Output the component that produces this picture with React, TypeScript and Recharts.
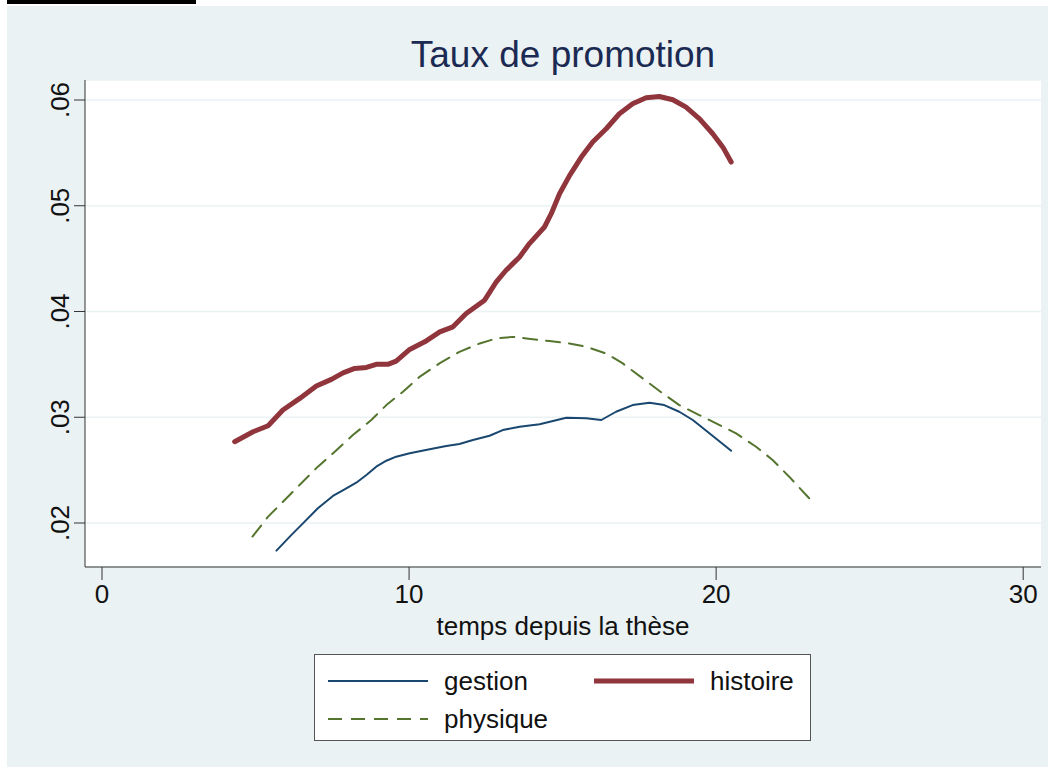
import { LineChart, Line, XAxis, YAxis, CartesianGrid } from "recharts";

// ── Data ──────────────────────────────────────────────────────────────────────

const gestionX = [5.68, 6.17, 6.6, 7.03, 7.52, 7.9, 8.28, 8.61, 8.93, 9.26, 9.58, 10.02, 10.67, 11.21, 11.64, 12.08, 12.62, 13.05, 13.6, 14.25, 15.12, 15.77, 16.26, 16.74, 17.28, 17.83, 18.31, 18.8, 19.24, 19.78, 20.49];
const gestionY = [0.01739, 0.01888, 0.02013, 0.0214, 0.02256, 0.02319, 0.02381, 0.02454, 0.02533, 0.02589, 0.02627, 0.02659, 0.02697, 0.02728, 0.02747, 0.02785, 0.02825, 0.02879, 0.0291, 0.02933, 0.02995, 0.0299, 0.02974, 0.03052, 0.03115, 0.03137, 0.03115, 0.03052, 0.02974, 0.02848, 0.02684];

const histoireX = [4.32, 4.92, 5.41, 5.89, 6.44, 6.98, 7.47, 7.85, 8.23, 8.61, 8.93, 9.31, 9.58, 10.02, 10.51, 11.0, 11.43, 11.86, 12.46, 12.84, 13.16, 13.6, 13.92, 14.41, 14.63, 14.9, 15.23, 15.61, 15.98, 16.42, 16.85, 17.28, 17.72, 18.15, 18.59, 19.02, 19.46, 19.89, 20.22, 20.49];
const histoireY = [0.02769, 0.02863, 0.0292, 0.03068, 0.03178, 0.03295, 0.03358, 0.0342, 0.03462, 0.03471, 0.035, 0.035, 0.03531, 0.03641, 0.03713, 0.03807, 0.03855, 0.03981, 0.04107, 0.0428, 0.0439, 0.04516, 0.04642, 0.04799, 0.04925, 0.05114, 0.05287, 0.0546, 0.05602, 0.05728, 0.0587, 0.05964, 0.06021, 0.06033, 0.06002, 0.05932, 0.05822, 0.05681, 0.05554, 0.05413];

const physiqueX = [4.9, 5.41, 5.95, 6.49, 7.03, 7.58, 8.17, 8.77, 9.26, 9.8, 10.34, 10.99, 11.64, 12.3, 12.84, 13.38, 13.82, 14.57, 15.22, 15.77, 16.42, 16.96, 17.61, 18.26, 18.8, 19.45, 20.0, 20.65, 21.3, 21.84, 22.38, 23.03];
const physiqueY = [0.01872, 0.0206, 0.02218, 0.02376, 0.02533, 0.02674, 0.02832, 0.02974, 0.03115, 0.03241, 0.03382, 0.03509, 0.03618, 0.03698, 0.03745, 0.0376, 0.03745, 0.0372, 0.03698, 0.03666, 0.03603, 0.03509, 0.03367, 0.03226, 0.03115, 0.03021, 0.02942, 0.02848, 0.02721, 0.02596, 0.02438, 0.02234];

const xTicks = [0, 10, 20, 30];
const yTicks = [0.02, 0.03, 0.04, 0.05, 0.06];

const zip = (xs: number[], ys: number[]) => xs.map((x, i) => ({ x, y: ys[i] }));

const series = [
  { name: "gestion", data: zip(gestionX, gestionY), color: "#1A476F", width: 2, dash: undefined },
  { name: "histoire", data: zip(histoireX, histoireY), color: "#90353B", width: 5, dash: undefined },
  { name: "physique", data: zip(physiqueX, physiqueY), color: "#55752F", width: 2, dash: "14 9" },
];

const FONT = '"Liberation Sans", Arial, Helvetica, sans-serif';
const BG = "#EAF2F3";
const AXIS = "#333";

// ── Rotated y tick (Stata style, reads bottom to top) ─────────────────────────

function YTick({ x, y, payload }: any) {
  const label = Number(payload.value).toFixed(2).replace(/^0/, "");
  return (
    <text
      transform={`translate(${x - 3},${y}) rotate(-90)`}
      textAnchor="middle"
      fontSize={26}
      fontFamily={FONT}
      fill="#111"
    >
      {label}
    </text>
  );
}

export default function App() {
  return (
    <div style={{ position: "absolute", left: 0, top: 0, width: 1048, height: 767, background: "#fff", fontFamily: FONT }}>
      {/* stray black bar at the top edge */}
      <div style={{ position: "absolute", left: 7, top: 0, width: 189, height: 4, background: "#000" }} />
      {/* graph region */}
      <div style={{ position: "absolute", left: 7, top: 6, right: 0, bottom: 0, background: BG }} />

      <div style={{ position: "absolute", left: 0, top: 37, width: 1126, textAlign: "center", fontSize: 37, lineHeight: "36px", color: "#1B2A52" }}>
        Taux de promotion
      </div>

      <div style={{ position: "absolute", left: 0, top: 0 }}>
        <LineChart width={1048} height={767} margin={{ top: 80, right: 7, bottom: 140, left: 0 }}>
          <CartesianGrid fill="#fff" vertical={false} stroke={BG} strokeWidth={1.5} />
          <XAxis
            type="number"
            dataKey="x"
            domain={[-0.554, 30.58]}
            allowDataOverflow
            ticks={xTicks}
            height={60}
            tickSize={13}
            tickMargin={5}
            stroke={AXIS}
            tick={{ fontSize: 26, fontFamily: FONT, fill: "#111" }}
          />
          <YAxis
            type="number"
            domain={[0.01584, 0.06189]}
            allowDataOverflow
            ticks={yTicks}
            width={85}
            tickSize={11}
            stroke={AXIS}
            tick={<YTick />}
          />
          {series.map(s => (
            <Line
              key={s.name}
              name={s.name}
              data={s.data}
              dataKey="y"
              type="linear"
              stroke={s.color}
              strokeWidth={s.width}
              strokeDasharray={s.dash}
              strokeLinecap="round"
              strokeLinejoin="round"
              dot={false}
              activeDot={false}
              isAnimationActive={false}
            />
          ))}
        </LineChart>
      </div>

      <div style={{ position: "absolute", left: 0, top: 613, width: 1126, textAlign: "center", fontSize: 26, lineHeight: "26px", color: "#111" }}>
        temps depuis la thèse
      </div>

      {/* legend */}
      <div style={{ position: "absolute", left: 314, top: 654, width: 495, height: 85, border: "1px solid #555", background: "#fff" }}>
        {series.map((s, i) => {
          const col = i === 1 ? 1 : 0;
          const row = i === 2 ? 1 : 0;
          const lx = col ? 279 : 13;
          const top = row ? 64 : 26;
          return (
            <div key={s.name}>
              <svg style={{ position: "absolute", left: lx, top: top - 4 }} width={100} height={8}>
                <line x1={0} x2={100} y1={4} y2={4} stroke={s.color} strokeWidth={s.width} strokeDasharray={s.dash} />
              </svg>
              <div style={{ position: "absolute", left: lx + 116, top: top - 13, fontSize: 26, lineHeight: "26px", color: "#111", whiteSpace: "nowrap" }}>
                {s.name}
              </div>
            </div>
          );
        })}
      </div>
    </div>
  );
}
